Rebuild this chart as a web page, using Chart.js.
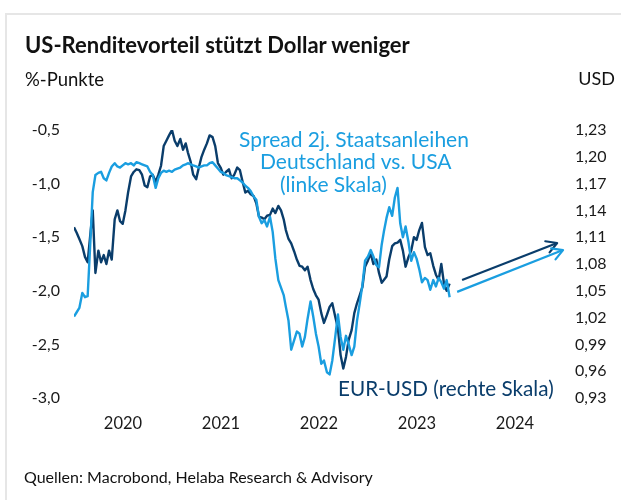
<!DOCTYPE html>
<html><head><meta charset="utf-8">
<script src="https://cdn.jsdelivr.net/npm/chart.js@4.4.0/dist/chart.umd.min.js"></script>
<style>
html,body{margin:0;padding:0;background:#fff;}
#wrap{position:relative;width:621px;height:500px;overflow:hidden;font-family:'Lato',sans-serif;}
#frame{position:absolute;left:5px;top:13px;width:700px;height:600px;border-top:2px solid #e6e6e6;border-left:2px solid #e6e6e6;}
canvas{position:absolute;left:0;top:0;}
.t{position:absolute;white-space:nowrap;line-height:1.2;}
#title{left:25px;top:32px;font-size:22px;font-weight:700;color:#111;}
#unitL{left:25px;top:68px;font-size:18.5px;color:#111;}
#unitR{right:6px;top:68px;font-size:18px;color:#111;}
.lb{color:#1a9ee0;font-size:21px;}
.db{color:#0a3d6b;font-size:20.7px;}
#src{left:24px;top:467px;font-size:16px;color:#111;}
</style></head>
<body><div id="wrap">
<div id="frame"></div>
<canvas id="c" width="621" height="500"></canvas>
<div class="t" id="title">US-Renditevorteil stützt Dollar weniger</div>
<div class="t" id="unitL">%-Punkte</div>
<div class="t" id="unitR">USD</div>
<div class="t lb" style="left:239px;top:126px">Spread 2j. Staatsanleihen</div>
<div class="t lb" style="left:260px;top:148px">Deutschland vs. USA</div>
<div class="t lb" style="left:280px;top:171px">(linke Skala)</div>
<div class="t db" style="left:338px;top:376px">EUR-USD (rechte Skala)</div>
<div class="t" id="src">Quellen: Macrobond, Helaba Research &amp; Advisory</div>
</div>
<script>
const dates = [
'2020-01-01','2020-01-11','2020-01-21','2020-02-01','2020-02-11','2020-02-21','2020-03-01','2020-03-11','2020-03-21',
'2020-04-01','2020-04-11','2020-04-21','2020-05-01','2020-05-11','2020-05-21','2020-06-01','2020-06-11','2020-06-21',
'2020-07-01','2020-07-11','2020-07-21','2020-08-01','2020-08-11','2020-08-21','2020-09-01','2020-09-11','2020-09-21',
'2020-10-01','2020-10-11','2020-10-21','2020-11-01','2020-11-11','2020-11-21','2020-12-01','2020-12-11','2020-12-21',
'2021-01-01','2021-01-11','2021-01-21','2021-02-01','2021-02-11','2021-02-21','2021-03-01','2021-03-11','2021-03-21',
'2021-04-01','2021-04-11','2021-04-21','2021-05-01','2021-05-11','2021-05-21','2021-06-01','2021-06-11','2021-06-21',
'2021-07-01','2021-07-11','2021-07-21','2021-08-01','2021-08-11','2021-08-21','2021-09-01','2021-09-11','2021-09-21',
'2021-10-01','2021-10-11','2021-10-21','2021-11-01','2021-11-11','2021-11-21','2021-12-01','2021-12-11','2021-12-21',
'2022-01-01','2022-01-11','2022-01-21','2022-02-01','2022-02-11','2022-02-21','2022-03-01','2022-03-11','2022-03-21',
'2022-04-01','2022-04-11','2022-04-21','2022-05-01','2022-05-11','2022-05-21','2022-06-01','2022-06-11','2022-06-21',
'2022-07-01','2022-07-11','2022-07-21','2022-08-01','2022-08-11','2022-08-21','2022-09-01','2022-09-11','2022-09-21',
'2022-10-01','2022-10-11','2022-10-21','2022-11-01','2022-11-11','2022-11-21','2022-12-01','2022-12-11','2022-12-21',
'2023-01-01','2023-01-11','2023-01-21','2023-02-01','2023-02-11','2023-02-21','2023-03-01','2023-03-11','2023-03-21',
'2023-04-01','2023-04-11','2023-04-21','2023-05-01','2023-05-11','2023-05-21','2023-06-01','2023-06-11','2023-06-21',
'2023-07-01','2023-07-11','2023-07-21','2023-08-01','2023-08-11','2023-08-21','2023-09-01','2023-09-11','2023-09-21',
'2023-10-01','2023-10-11','2023-10-21','2023-11-01'];

// EUR-USD (right scale)
const eurUsd = [
1.121,1.115,1.108, 1.100,1.088,1.082, 1.110,1.140,1.070,
1.095,1.082,1.090, 1.080,1.095,1.085, 1.130,1.140,1.128,
1.125,1.140,1.160, 1.178,1.183,1.186, 1.185,1.180,1.168,
1.166,1.178,1.180, 1.172,1.180,1.190, 1.212,1.218,1.224,
1.230,1.218,1.212, 1.220,1.208,1.215, 1.205,1.195,1.180,
1.175,1.188,1.200, 1.208,1.215,1.224, 1.222,1.212,1.193,
1.188,1.180,1.183, 1.186,1.176,1.180, 1.188,1.185,1.172,
1.160,1.162,1.158, 1.156,1.148,1.133, 1.132,1.130,1.134,
1.135,1.142,1.137, 1.145,1.140,1.130, 1.118,1.108,1.103,
1.094,1.085,1.078, 1.077,1.073,1.077, 1.062,1.052,1.045,
1.040,1.025,1.014, 1.023,1.032,1.036, 1.021,1.008,0.978,
0.963,0.976,0.995, 1.006,1.025,1.036, 1.045,1.054,1.077,
1.084,1.092,1.080, 1.085,1.070,1.059, 1.062,1.066,1.085,
1.100,1.103,1.104, 1.107,1.095,1.077, 1.088,1.095,1.110,
1.107,1.118,1.126, 1.099,1.090,1.092, 1.078,1.068,1.062,
1.080,1.058,1.050, 1.058];

// Spread 2y Germany vs. USA (left scale)
const spread = [
-2.24,-2.20,-2.16, -2.02,-2.06,-2.05, -1.60,-1.08,-0.92,
-0.90,-0.89,-0.95, -0.97,-0.90,-0.84, -0.81,-0.84,-0.85,
-0.83,-0.81,-0.82, -0.81,-0.83,-0.80, -0.81,-0.82,-0.83,
-0.84,-0.89,-0.92, -1.04,-0.95,-0.90, -0.88,-0.89,-0.88,
-0.89,-0.87,-0.86, -0.85,-0.83,-0.82, -0.81,-0.82,-0.83,
-0.84,-0.85,-0.84, -0.83,-0.83,-0.81, -0.80,-0.83,-0.86,
-0.89,-0.90,-0.92, -0.93,-0.94,-0.95, -0.95,-0.97,-0.99,
-1.02,-1.04,-1.07, -1.12,-1.15,-1.31, -1.37,-1.34,-1.40,
-1.31,-1.45,-1.70, -1.90,-1.97,-2.04, -2.15,-2.28,-2.55,
-2.46,-2.38,-2.40, -2.52,-2.43,-2.26, -2.10,-2.24,-2.40,
-2.52,-2.68,-2.65, -2.76,-2.78,-2.65, -2.43,-2.22,-2.43,
-2.55,-2.42,-2.50, -2.60,-2.52,-2.28, -2.12,-1.95,-1.72,
-1.68,-1.62,-1.68, -1.76,-1.78,-1.57, -1.45,-1.32,-1.22,
-1.30,-1.13,-1.04, -1.37,-1.50,-1.40, -1.55,-1.72,-1.64,
-1.70,-1.80,-1.92, -1.88,-1.90,-1.99, -1.90,-1.96,-1.88,
-1.92,-1.98,-1.90, -2.06];

const yearLabels = [2020, 2021, 2022, 2023, 2024];
const leftTicks = [-3.0, -2.5, -2.0, -1.5, -1.0, -0.5];
const rightTicks = [0.93, 0.96, 0.99, 1.02, 1.05, 1.08, 1.11, 1.14, 1.17, 1.20, 1.23];

// trend arrows (start, end) in data units
const arrowDarkX = [2023.96, 2024.93];
const arrowDarkY = [1.062, 1.1035];
const arrowLightX = [2023.91, 2024.99];
const arrowLightY = [-2.01, -1.62];

const LIGHT = '#1a9ee0';
const DARK = '#0a3d6b';

function toYear(s) {
  const [y, m, d] = s.split('-').map(Number);
  const start = Date.UTC(y, 0, 1), end = Date.UTC(y + 1, 0, 1);
  return y + (Date.UTC(y, m - 1, d) - start) / (end - start);
}
const xs = dates.map(toYear);
const darkPts = xs.map((x, i) => ({x, y: eurUsd[i]}));
const lightPts = xs.map((x, i) => ({x, y: spread[i]}));
const pts = (X, Y) => X.map((x, i) => ({x, y: Y[i]}));

const arrowHeads = {
  id: 'arrowHeads',
  afterDatasetsDraw(chart) {
    const ctx = chart.ctx;
    [2, 3].forEach(idx => {
      const meta = chart.getDatasetMeta(idx);
      const a = meta.data[0], b = meta.data[1];
      const ang = Math.atan2(b.y - a.y, b.x - a.x);
      const L = 12, w = 0.52;
      ctx.save();
      ctx.strokeStyle = chart.data.datasets[idx].borderColor;
      ctx.lineWidth = 2.2;
      ctx.lineCap = 'round';
      ctx.lineJoin = 'round';
      ctx.beginPath();
      ctx.moveTo(b.x - L * Math.cos(ang - w), b.y - L * Math.sin(ang - w));
      ctx.lineTo(b.x, b.y);
      ctx.lineTo(b.x - L * Math.cos(ang + w), b.y - L * Math.sin(ang + w));
      ctx.stroke();
      ctx.restore();
    });
  }
};

const tickFont = {family: 'Lato', size: 16};
new Chart(document.getElementById('c'), {
  type: 'line',
  data: {
    datasets: [
      {data: darkPts, yAxisID: 'yR', borderColor: DARK, borderWidth: 2.4, pointRadius: 0, tension: 0, order: 2, borderJoinStyle: 'round'},
      {data: lightPts, yAxisID: 'yL', borderColor: LIGHT, borderWidth: 2.4, pointRadius: 0, tension: 0, order: 1, borderJoinStyle: 'round'},
      {data: pts(arrowDarkX, arrowDarkY), yAxisID: 'yR', borderColor: DARK, borderWidth: 2.2, pointRadius: 0, order: 0},
      {data: pts(arrowLightX, arrowLightY), yAxisID: 'yL', borderColor: LIGHT, borderWidth: 2.2, pointRadius: 0, order: 0}
    ]
  },
  options: {
    responsive: false,
    animation: false,
    events: [],
    layout: {padding: {top: 130, bottom: 0, left: 0, right: 0}},
    plugins: {legend: {display: false}, tooltip: {enabled: false}},
    scales: {
      x: {
        type: 'linear', min: 2020, max: 2025,
        grid: {display: false, drawTicks: false}, border: {display: false},
        afterBuildTicks: ax => { ax.ticks = yearLabels.map(y => ({value: y + 0.5})); },
        afterFit: ax => { ax.height = 102; },
        ticks: {callback: v => String(Math.floor(v)), font: {family: 'Lato', size: 16.5}, color: '#1a1a1a', padding: 16, maxRotation: 0, autoSkip: false}
      },
      yL: {
        position: 'left', min: -3, max: -0.5,
        grid: {display: false, drawTicks: false}, border: {display: false},
        afterBuildTicks: ax => { ax.ticks = leftTicks.map(v => ({value: v})); },
        afterFit: ax => { ax.width = 74; },
        ticks: {callback: v => v.toFixed(1).replace('.', ','), font: tickFont, color: '#1a1a1a', padding: 14}
      },
      yR: {
        position: 'right', min: 0.93, max: 1.23,
        grid: {display: false, drawTicks: false}, border: {display: false},
        afterBuildTicks: ax => { ax.ticks = rightTicks.map(v => ({value: v})); },
        afterFit: ax => { ax.width = 57; },
        ticks: {callback: v => v.toFixed(2).replace('.', ','), font: tickFont, color: '#1a1a1a', padding: 11}
      }
    }
  },
  plugins: [arrowHeads]
});
</script>
</body></html>
